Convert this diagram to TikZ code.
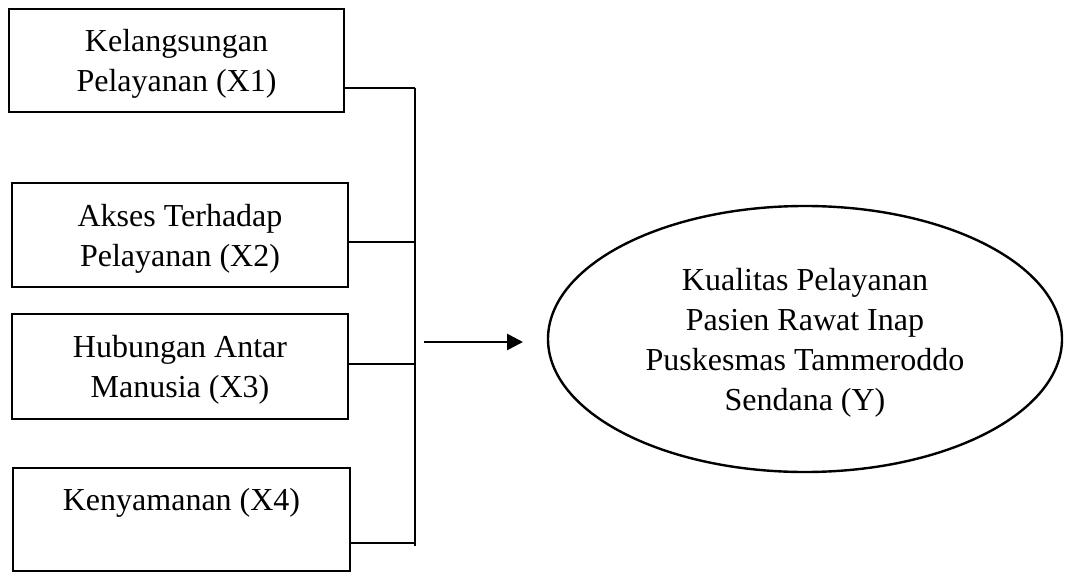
\documentclass[tikz,border=0pt]{standalone}
\usepackage{fontspec}
\setmainfont{Liberation Serif}
\usetikzlibrary{arrows.meta,shapes.geometric}

\begin{document}
\begin{tikzpicture}[x=1pt,y=-1pt,
	varbox/.style={draw,line width=2.8pt,align=center,inner sep=0pt,text depth=0pt,
		font=\fontsize{32}{40}\selectfont},
	joint/.style={line width=2pt}]

	\useasboundingbox (0,0) rectangle (1070,572);

	\node[varbox,minimum width=335pt,minimum height=103pt] (x1) at (176.5,60.5) {Kelangsungan\\Pelayanan (X1)};
	\node[varbox,minimum width=336pt,minimum height=104pt] (x2) at (180,235) {Akses Terhadap\\Pelayanan (X2)};
	\node[varbox,minimum width=336pt,minimum height=105pt] (x3) at (180,366.5) {Hubungan Antar\\Manusia (X3)};
	\node[varbox,minimum width=337pt,minimum height=103pt] (x4) at (181.5,519.5) {Kenyamanan (X4)\\~};

	\node[varbox,ellipse,line width=2.4pt,minimum width=514pt,minimum height=266pt] (y) at (805,339) {Kualitas Pelayanan\\Pasien Rawat Inap\\Puskesmas Tammeroddo\\Sendana (Y)};

	% garis penghubung
	\coordinate (j1) at (415,88);
	\coordinate (j2) at (415,242);
	\coordinate (j3) at (415,364);
	\coordinate (j4) at (415,543);
	\coordinate (bot) at (415,546);

	\draw[joint] (x1.east |- j1) -- (j1);
	\draw[joint] (x2.east |- j2) -- (j2);
	\draw[joint] (x3.east |- j3) -- (j3);
	\draw[joint] (x4.east |- j4) -- (j4);
	\draw[joint] (j1) -- (bot);

	\coordinate (a) at (424,342);
	\coordinate (b) at (523,342);
	\draw[line width=2.7pt,-{Triangle[length=16pt,width=16pt]}] (a) -- (b);

\end{tikzpicture}
\end{document}
